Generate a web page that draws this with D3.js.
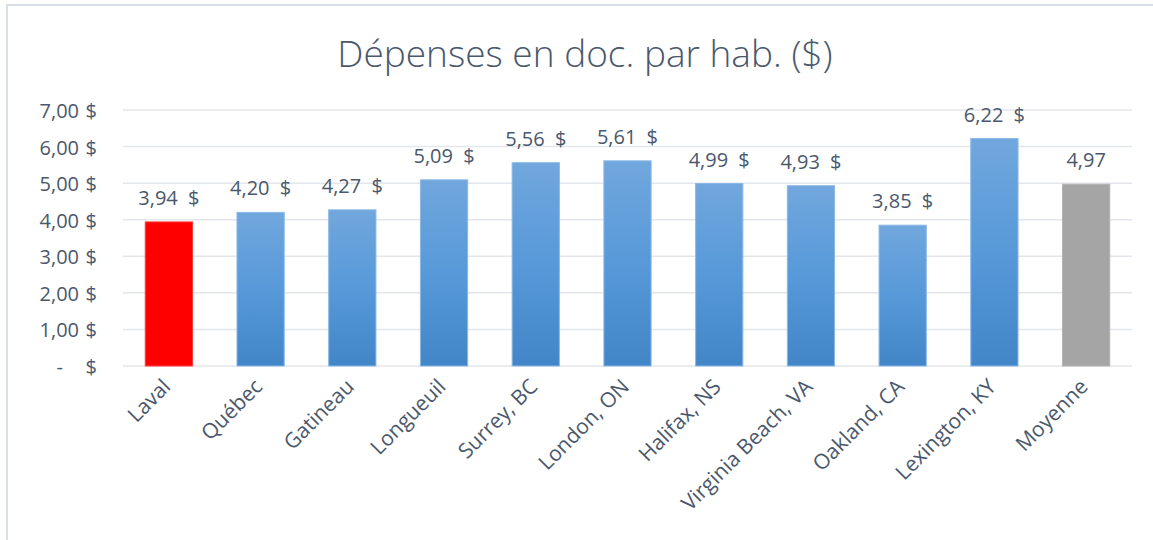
<!DOCTYPE html>
<html>
<head>
<meta charset="utf-8">
<script src="https://cdn.jsdelivr.net/npm/d3@7"></script>
<style>
  body { margin: 0; background: #fff; }
  text { font-family: "Open Sans", "Noto Sans", sans-serif; fill: #4a586c; }
</style>
</head>
<body>
<svg id="canvas" width="1153" height="540"></svg>
<script>
const categories = ["Laval", "Québec", "Gatineau", "Longueuil", "Surrey, BC", "London, ON",
  "Halifax, NS", "Virginia Beach, VA", "Oakland, CA", "Lexington, KY", "Moyenne"];
const values = [3.94, 4.20, 4.27, 5.09, 5.56, 5.61, 4.99, 4.93, 3.85, 6.22, 4.97];
const valueLabels = ["3,94 $", "4,20 $", "4,27 $", "5,09 $", "5,56 $", "5,61 $",
  "4,99 $", "4,93 $", "3,85 $", "6,22 $", "4,97"];
const yTicks = [0, 1, 2, 3, 4, 5, 6, 7];
const yTickLabels = ["-", "1,00", "2,00", "3,00", "4,00", "5,00", "6,00", "7,00"];

const CANVAS = d3.select("#canvas");
const LEFT = 123, RIGHT = 1132, TOP = 110, BOTTOM = 366;

var x = d3.scaleBand()
  .domain(categories)
  .range([LEFT, RIGHT])
  .paddingInner(0.485)
  .paddingOuter(0.2425);

var y = d3.scaleLinear()
  .domain([0, 7])
  .range([BOTTOM, TOP]);

// chart frame (only top and left edges show in the crop)
CANVAS.append("rect")
  .attr("x", 7).attr("y", 5)
  .attr("width", 1160).attr("height", 560)
  .attr("fill", "none")
  .attr("stroke", "#dadee6")
  .attr("stroke-width", 2);

// gradient for the city bars
var grad = CANVAS.append("defs").append("linearGradient")
  .attr("id", "blue").attr("x1", 0).attr("y1", 0).attr("x2", 0).attr("y2", 1);
grad.append("stop").attr("offset", "0%").attr("stop-color", "#71a7dd");
grad.append("stop").attr("offset", "50%").attr("stop-color", "#5799d9");
grad.append("stop").attr("offset", "100%").attr("stop-color", "#4286c7");

CANVAS.append("text")
  .attr("x", 585).attr("y", 67)
  .attr("text-anchor", "middle")
  .style("font-size", "37px")
  .style("font-weight", 300)
  .text("Dépenses en doc. par hab. ($)");

// gridlines
CANVAS.append("g")
  .selectAll("line")
  .data(yTicks)
  .join("line")
  .attr("x1", LEFT).attr("x2", RIGHT)
  .attr("y1", d => y(d)).attr("y2", d => y(d))
  .attr("stroke", "#e3e6eb")
  .attr("stroke-width", 1.5);

// y tick labels, accounting style: number then $
var yl = CANVAS.append("g").style("font-size", "20px");
yl.selectAll("text.num")
  .data(yTicks)
  .join("text")
  .attr("class", "num")
  .attr("x", d => d === 0 ? 63 : 79)
  .attr("y", d => y(d) + 8)
  .attr("text-anchor", "end")
  .text((d, i) => yTickLabels[i]);
yl.selectAll("text.cur")
  .data(yTicks)
  .join("text")
  .attr("class", "cur")
  .attr("x", 97)
  .attr("y", d => y(d) + 8)
  .attr("text-anchor", "end")
  .text("$");

// bars
CANVAS.append("g")
  .selectAll("rect")
  .data(values)
  .join("rect")
  .attr("x", (d, i) => x(categories[i]))
  .attr("y", d => y(d))
  .attr("width", x.bandwidth())
  .attr("height", d => y(0) - y(d))
  .attr("fill", (d, i) => i === 0 ? "#ff0000" : (i === categories.length - 1 ? "#a5a5a5" : "url(#blue)"))
  .attr("stroke", (d, i) => i === 0 ? "#ff3b3b" : (i === categories.length - 1 ? "#b3b3b3" : "#8ab8e6"))
  .attr("stroke-width", 1);

// value labels
CANVAS.append("g")
  .selectAll("text")
  .data(values)
  .join("text")
  .attr("x", (d, i) => x(categories[i]) + x.bandwidth() / 2)
  .attr("y", d => y(d) - 17)
  .attr("text-anchor", "middle")
  .style("font-size", "20px")
  .style("word-spacing", "5px")
  .text((d, i) => valueLabels[i]);

// category labels
CANVAS.append("g")
  .selectAll("text")
  .data(categories)
  .join("text")
  .attr("transform", d => `translate(${x(d) + x.bandwidth() / 2 + 3},${BOTTOM + 22}) rotate(-45)`)
  .attr("text-anchor", "end")
  .style("font-size", "21px")
  .text(d => d);
</script>
</body>
</html>
